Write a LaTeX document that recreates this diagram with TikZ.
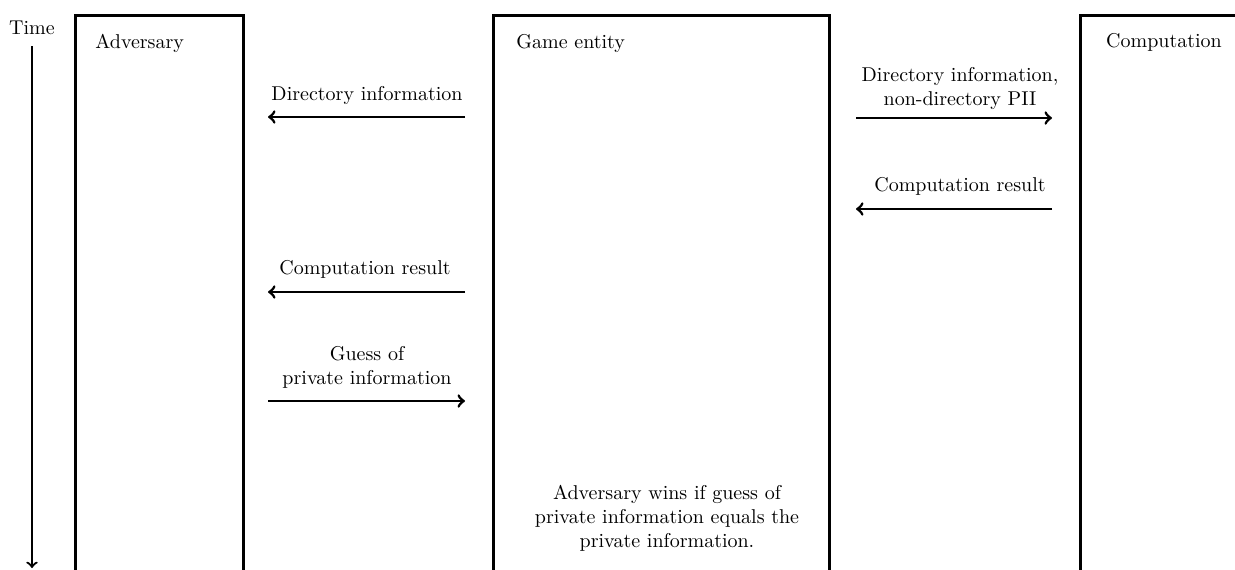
\documentclass[tikz,border=0pt]{standalone}
\newlength{\du}
\setlength{\du}{10\unitlength}
\tikzset{
  lifebox/.style={draw, line width=0.150000\du, anchor=north west, inner sep=0pt},
  msgarrow/.style={->, line width=0.140000\du},
  msglabel/.style={align=center, anchor=center},
}
\begin{document}
\begin{tikzpicture}
\pgftransformxscale{1.000000}
\pgftransformyscale{-1.000000}
\definecolor{dialinecolor}{rgb}{0.000000, 0.000000, 0.000000}
\pgfsetstrokecolor{dialinecolor}
\useasboundingbox (0\du,0\du) rectangle (61.750000\du,28.450000\du);
\clip (0\du,0\du) rectangle (61.750000\du,28.450000\du);
% time axis
\node[anchor=center] (timelbl) at (1.600000\du,1.400000\du){Time};
\coordinate (timestart) at (1.600000\du,2.300000\du);
\coordinate (timeend) at (1.600000\du,28.400000\du);
\draw[->, line width=0.110000\du] (timestart)--(timeend);
% lifelines
\node[lifebox, minimum width=8.400000\du, minimum height=29.300000\du] (adv) at (3.700000\du,0.700000\du){};
\node[anchor=west] (advlbl) at (4.420000\du,2.150000\du){Adversary};
\node[lifebox, minimum width=16.800000\du, minimum height=29.300000\du] (game) at (24.600000\du,0.700000\du){};
\node[anchor=west] (gamelbl) at (25.470000\du,2.150000\du){Game entity};
\node[lifebox, minimum width=9.000000\du, minimum height=29.300000\du] (comp) at (53.950000\du,0.700000\du){};
\node[anchor=center] (complbl) at (58.200000\du,2.100000\du){Computation};
% message ends
\coordinate (ga1) at (23.250000\du,5.850000\du);
\coordinate (aa1) at (13.400000\du,5.850000\du);
\coordinate (gc2) at (42.800000\du,5.900000\du);
\coordinate (cc2) at (52.600000\du,5.900000\du);
\coordinate (cc3) at (52.600000\du,10.450000\du);
\coordinate (gc3) at (42.800000\du,10.450000\du);
\coordinate (ga4) at (23.250000\du,14.600000\du);
\coordinate (aa4) at (13.400000\du,14.600000\du);
\coordinate (aa5) at (13.400000\du,20.050000\du);
\coordinate (ga5) at (23.250000\du,20.050000\du);
% messages
\draw[msgarrow] (ga1)--(aa1);
\node[msglabel] (msg1) at (18.350000\du,4.750000\du){Directory information};
\draw[msgarrow] (gc2)--(cc2);
\node[msglabel] (msg2) at (48.000000\du,4.400000\du){Directory information,\\non-directory PII};
\draw[msgarrow] (cc3)--(gc3);
\node[msglabel] (msg3) at (48.000000\du,9.300000\du){Computation result};
\draw[msgarrow] (ga4)--(aa4);
\node[msglabel] (msg4) at (18.250000\du,13.450000\du){Computation result};
\draw[msgarrow] (aa5)--(ga5);
\node[msglabel] (msg5) at (18.350000\du,18.350000\du){Guess of\\private information};
% outcome
\node[msglabel] (win) at (33.350000\du,25.900000\du){Adversary wins if guess of\\private information equals the\\private information.};
\end{tikzpicture}
\end{document}
